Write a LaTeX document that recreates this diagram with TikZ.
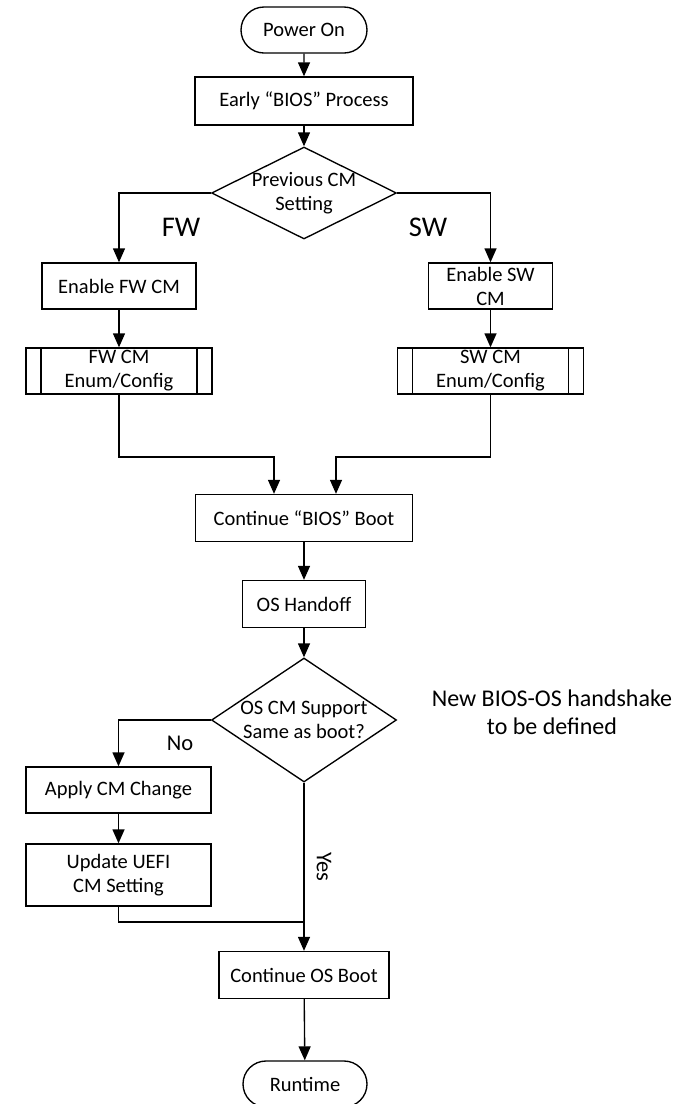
\documentclass[tikz,border=0pt]{standalone}
\usepackage{fontspec}
\setmainfont{Carlito}
\usetikzlibrary{shapes.geometric,shapes.misc,arrows.meta}
\begin{document}
\begin{tikzpicture}[x=1pt,y=-1pt,line width=1.35pt,
  txt/.style={font=\fontsize{20.5}{24}\selectfont},
  term/.style={draw,rounded rectangle,minimum height=46pt,inner sep=0pt,txt},
  proc/.style={draw,rectangle,minimum height=46pt,inner sep=0pt,align=center,txt},
  pred/.style={proc,path picture={
      \draw ([xshift=15pt]path picture bounding box.north west) -- ([xshift=15pt]path picture bounding box.south west);
      \draw ([xshift=-15pt]path picture bounding box.north east) -- ([xshift=-15pt]path picture bounding box.south east);}},
  dec/.style={draw,diamond,inner sep=0pt},
  dectxt/.style={align=center,txt},
  arr/.style={-{Triangle[length=14pt,width=12pt]}},
  lbl/.style={font=\fontsize{22.5}{27}\selectfont},
  big/.style={font=\fontsize{28.5}{33}\selectfont,anchor=base,inner sep=0pt},
  note/.style={align=center,font=\fontsize{24}{28}\selectfont}
]
\useasboundingbox (0,0) rectangle (700,1104);
\fill[white] (0,0) rectangle (700,1104);

\node[term,minimum width=126pt] (pwr) at (304,30) {Power On};
\node[proc,minimum width=218pt,minimum height=48pt] (early) at (304,101) {Early “BIOS” Process};
\node[dec,minimum width=185pt,minimum height=92pt,
  label={[dectxt]center:Previous CM\\Setting}] (d1) at (304,193) {};
\node[proc,minimum width=154pt] (fwen) at (119,286) {Enable FW CM};
\node[proc,minimum width=124pt] (swen) at (490.5,286) {Enable SW\\CM};
\node[pred,minimum width=186pt] (fwcm) at (119,371) {FW CM\\Enum/Config};
\node[pred,minimum width=186pt] (swcm) at (490.5,371) {SW CM\\Enum/Config};
\node[proc,minimum width=217pt,minimum height=47pt] (cbios) at (304,518) {Continue “BIOS” Boot};
\node[proc,minimum width=123pt,minimum height=47pt] (hand) at (304,604) {OS Handoff};
\node[dec,minimum width=185pt,minimum height=124pt,
  label={[dectxt]center:OS CM Support\\Same as boot?}] (d2) at (304,720) {};
\node[proc,minimum width=185pt] (apply) at (118.5,790) {Apply CM Change};
\node[proc,minimum width=185pt,minimum height=62pt] (uefi) at (118.5,875) {Update UEFI\\CM Setting};
\node[proc,minimum width=170pt,minimum height=47pt] (cos) at (304,975) {Continue OS Boot};
\node[term,minimum width=124pt] (rt) at (305,1084) {Runtime};

\node[big] (fw) at (181,236) {FW};
\node[big] (sw) at (428,236) {SW};
\node[lbl] (no) at (180,743) {No};
\node[lbl,rotate=-90] (yes) at (324,867) {Yes};
\node[note] (nt) at (552,712) {New BIOS-OS handshake\\to be defined};

\coordinate (j1) at (0,457);
\coordinate (j2) at (304,922);
\draw[arr] (pwr) -- (early);
\draw[arr] (early) -- (d1);
\draw[arr] (d1.west) -| (fwen.north);
\draw[arr] (d1.east) -| (swen.north);
\draw[arr] (fwen) -- (fwcm);
\draw[arr] (swen) -- (swcm);
\draw[arr] (fwcm.south) -- (fwcm.south |- j1) -| ([xshift=-30pt]cbios.north);
\draw[arr] (swcm.south) -- (swcm.south |- j1) -| ([xshift=32pt]cbios.north);
\draw[arr] (cbios) -- (hand);
\draw[arr] (hand) -- (d2);
\draw[arr] (d2.west) -| (apply.north);
\draw[arr] (apply) -- (uefi);
\draw (uefi.south) |- (j2);
\draw[arr] (d2.south) -- (cos.north);
\draw[arr] (cos) -- (rt);
\end{tikzpicture}
\end{document}
